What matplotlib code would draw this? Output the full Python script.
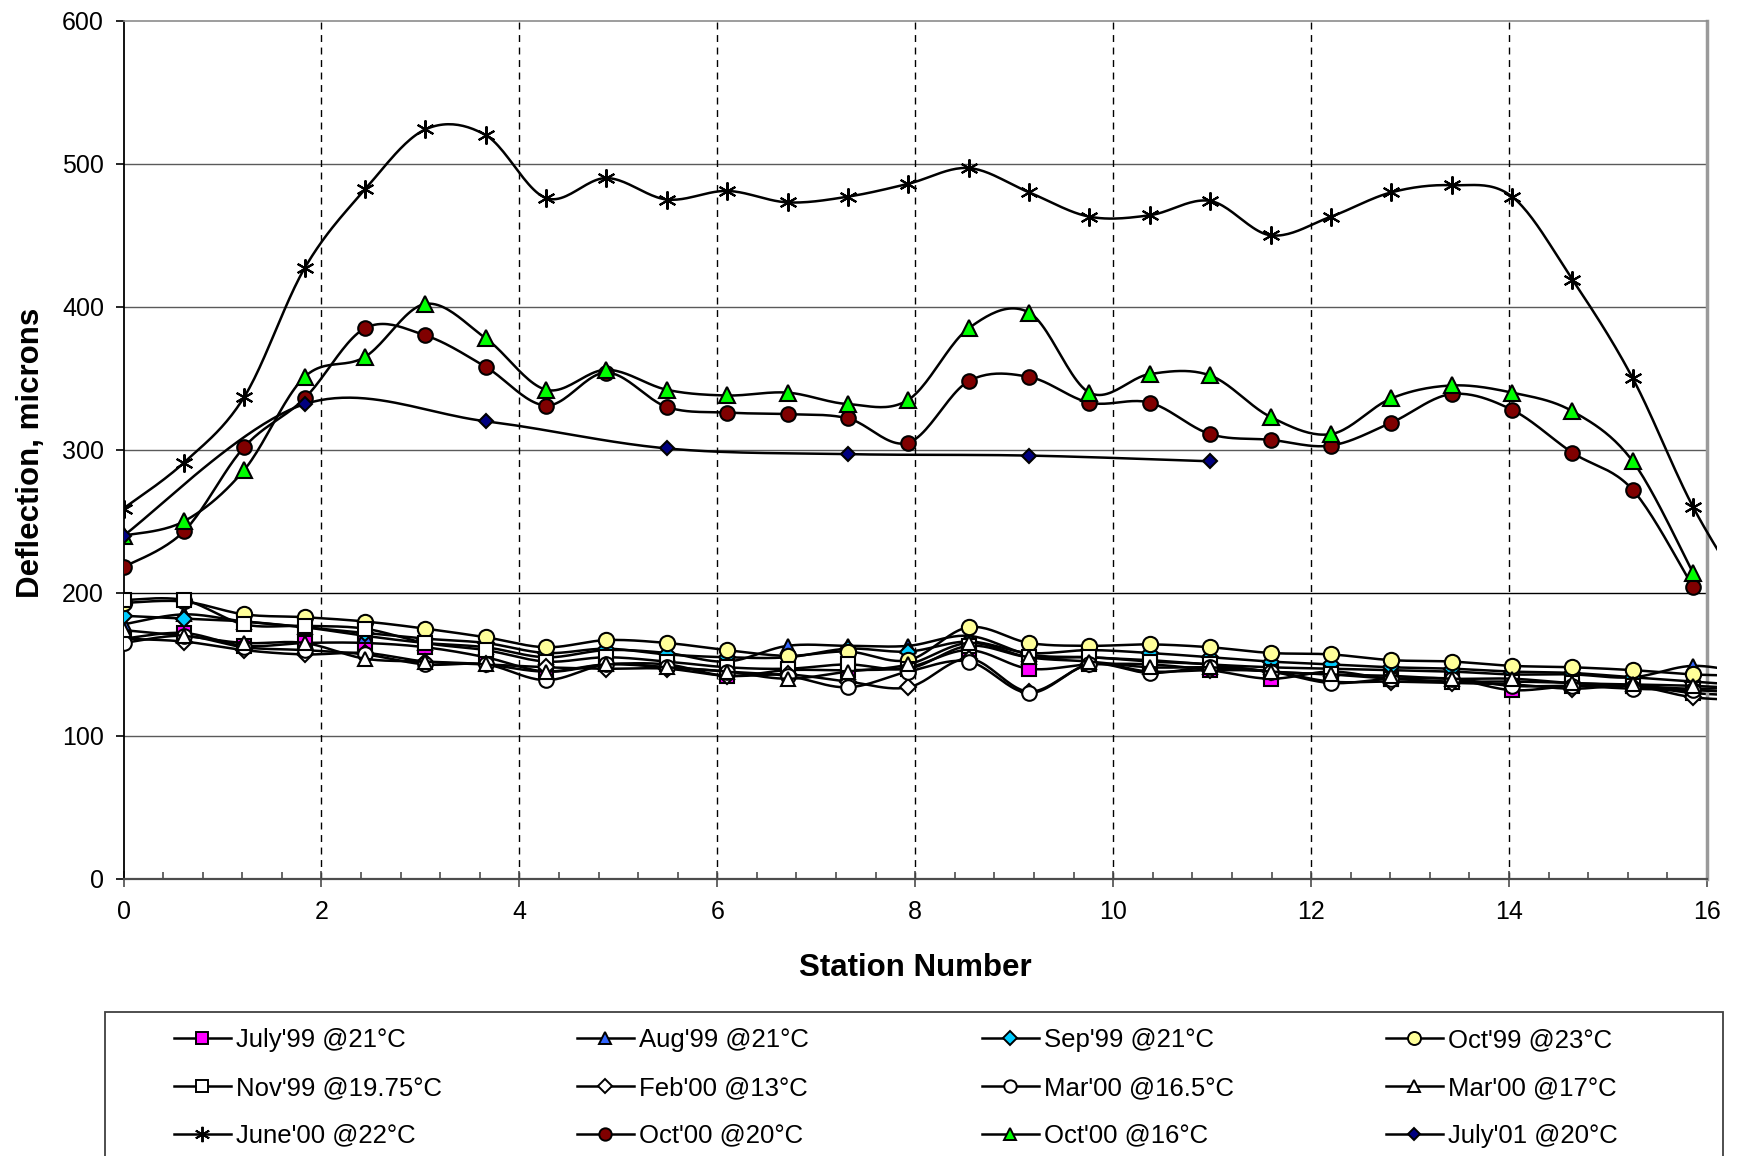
import numpy as np
import matplotlib
matplotlib.use("Agg")
import matplotlib.pyplot as plt
from matplotlib.patches import Rectangle
from matplotlib.lines import Line2D

plt.rcParams['font.family'] = ['Liberation Sans', 'DejaVu Sans']

# ---------------------------------------------------------------- data
# station positions (the last one lies just past the right edge of the plot)
station = [0.00, 0.61, 1.22, 1.83, 2.44, 3.05, 3.66, 4.27, 4.88, 5.49, 6.10,
           6.71, 7.32, 7.93, 8.54, 9.15, 9.76, 10.37, 10.98, 11.59, 12.20,
           12.81, 13.42, 14.03, 14.64, 15.25, 15.86, 16.47]

july99 = [168, 172, 163, 165, 165, 162, 155, 145, 150, 150, 142, 146, 146, 148,
          160, 147, 150, 150, 146, 140, 145, 140, 140, 132, 135, 135, 130, 128]
aug99 = [178, 185, 180, 176, 170, 165, 162, 155, 160, 158, 152, 163, 163, 163,
         170, 157, 155, 153, 150, 148, 147, 146, 145, 143, 143, 141, 149, 143]
sep99 = [184, 182, 180, 176, 172, 168, 165, 158, 161, 157, 155, 155, 161, 159,
         166, 158, 160, 158, 155, 152, 150, 148, 147, 145, 144, 141, 138, 135]
oct99 = [193, 194, 185, 183, 180, 175, 169, 162, 167, 165, 160, 156, 159, 153,
         176, 165, 163, 164, 162, 158, 157, 153, 152, 149, 148, 146, 143, 142]
nov99 = [195, 195, 178, 177, 175, 165, 160, 152, 155, 152, 148, 147, 150, 147,
         163, 155, 155, 152, 150, 145, 143, 140, 138, 138, 137, 135, 133, 134]
feb00 = [168, 166, 160, 157, 158, 152, 150, 148, 147, 147, 142, 143, 138, 134,
         154, 131, 150, 145, 146, 145, 138, 138, 137, 136, 133, 135, 127, 125]
mar00_165 = [165, 170, 162, 160, 157, 150, 150, 139, 150, 148, 145, 142, 134, 145,
             152, 130, 150, 144, 148, 145, 137, 140, 140, 135, 135, 133, 132, 130]
mar00_17 = [174, 170, 165, 165, 154, 152, 150, 145, 150, 148, 145, 140, 145, 150,
            165, 155, 152, 148, 148, 145, 143, 142, 140, 140, 137, 136, 135, 133]
june00 = [259, 291, 337, 427, 482, 524, 520, 476, 490, 475, 481, 473, 477, 486,
          497, 480, 463, 464, 474, 450, 463, 480, 485, 477, 419, 350, 260, 190]
oct00_20 = [218, 243, 302, 336, 385, 380, 358, 331, 354, 330, 326, 325, 322, 305,
            348, 351, 333, 333, 311, 307, 303, 319, 339, 328, 298, 272, 204]
oct00_16 = [240, 250, 286, 351, 365, 402, 378, 342, 356, 342, 338, 340, 332, 335,
            385, 396, 340, 353, 352, 323, 311, 336, 345, 340, 327, 292, 214]
july01_station = [0.00, 1.83, 3.66, 5.49, 7.32, 9.15, 10.98]
july01 = [240, 332, 320, 301, 297, 296, 292]

labels = ["July'99 @21°C", "Aug'99 @21°C", "Sep'99 @21°C", "Oct'99 @23°C",
          "Nov'99 @19.75°C", "Feb'00 @13°C", "Mar'00 @16.5°C", "Mar'00 @17°C",
          "June'00 @22°C", "Oct'00 @20°C", "Oct'00 @16°C", "July'01 @20°C"]

# ---------------------------------------------------------------- styles
ASTER = (6, 2, 0)
series = [
    (station, july99, 's', '#FF00FF', 9.5),
    (station, aug99, '^', '#3366FF', 10.5),
    (station, sep99, 'D', '#00CCFF', 8.0),
    (station, oct99, 'o', '#FFFF99', 11.0),
    (station, nov99, 's', 'white', 9.5),
    (station, feb00, 'D', 'white', 8.0),
    (station, mar00_165, 'o', 'white', 10.5),
    (station, mar00_17, '^', 'white', 10.5),
    (station, june00, ASTER, 'none', 13.0),
    (station, oct00_20, 'o', '#800000', 10.5),
    (station, oct00_16, '^', '#00FF00', 11.0),
    (july01_station, july01, 'D', '#000080', 7.5),
]


def smooth(x, y, n=24):
    """Smoothed curve through the points (cubic Bezier, Catmull-Rom tangents)."""
    x = np.asarray(x, float)
    y = np.asarray(y, float)
    px = np.concatenate([[x[0]], x, [x[-1]]])
    py = np.concatenate([[y[0]], y, [y[-1]]])
    t = np.linspace(0, 1, n, endpoint=False)
    xs, ys = [], []
    for i in range(1, len(px) - 2):
        for p, out in ((px, xs), (py, ys)):
            p0, p1, p2, p3 = p[i - 1], p[i], p[i + 1], p[i + 2]
            b1 = p1 + (p2 - p0) / 6.0
            b2 = p2 - (p3 - p1) / 6.0
            out.append((1 - t) ** 3 * p1 + 3 * (1 - t) ** 2 * t * b1
                       + 3 * (1 - t) * t ** 2 * b2 + t ** 3 * p2)
    xs.append([x[-1]])
    ys.append([y[-1]])
    return np.concatenate(xs), np.concatenate(ys)


# ---------------------------------------------------------------- figure
W, H = 1737, 1156
fig = plt.figure(figsize=(W / 100, H / 100), dpi=100)
fig.patch.set_facecolor('white')
ax = fig.add_axes([123.5 / W, 1 - 879 / H, (1707 - 123.5) / W, (879 - 20.7) / H])

ax.set_xlim(0, 16)
ax.set_ylim(0, 600)
ax.set_xticks(np.arange(0, 17, 2))
ax.set_xticks(np.arange(0, 16.01, 0.4), minor=True)
ax.set_yticks(np.arange(0, 601, 100))

# horizontal grid and dashed verticals
for v in range(100, 600, 100):
    ax.axhline(v, color='black' if v == 200 else '#5a5a5a', lw=1.0, zorder=0.5)
for v in range(2, 16, 2):
    ax.axvline(v, color='black', lw=1.0, ls=(0, (5, 4)), zorder=0.5)

clip = Rectangle((0, 0), 1.006, 1.0, transform=ax.transAxes, fill=False)
ax.add_artist(clip)
clip.set_visible(False)

z = 2
for xs, ys, mk, fc, ms in series:
    sx, sy = smooth(xs[:len(ys)], ys)
    ln, = ax.plot(sx, sy, color='black', lw=1.8, zorder=z, solid_capstyle='butt')
    ln.set_clip_path(clip)
    ax.plot(xs[:len(ys)], ys, ls='none', marker=mk, ms=ms,
            mfc=fc, mec='black', mew=1.5, zorder=z + 0.5)
    z += 1

# ---------------------------------------------------------------- axes style
ax.spines['left'].set_color('black')
ax.spines['left'].set_linewidth(1.3)
ax.spines['bottom'].set_color('#4d4d4d')
ax.spines['bottom'].set_linewidth(1.6)
ax.spines['top'].set_color('#8c8c8c')
ax.spines['top'].set_linewidth(1.2)
ax.spines['right'].set_color('#9a9a9a')
ax.spines['right'].set_linewidth(2.5)

ax.tick_params(axis='y', which='major', direction='out', length=6, width=1.2,
               pad=8, labelsize=18)
ax.tick_params(axis='x', which='major', direction='inout', length=12, width=1.2,
               pad=9, labelsize=18, color='#4d4d4d')
ax.tick_params(axis='x', which='minor', direction='in', length=5, width=1.2,
               color='#4d4d4d')

fig.text(31 / W, 1 - 453 / H, 'Deflection, microns', rotation=90, ha='center',
         va='center', fontsize=22.5, fontweight='bold')
fig.text(915 / W, 1 - 968 / H, 'Station Number', ha='center', va='center',
         fontsize=22.5, fontweight='bold')

# ---------------------------------------------------------------- legend
frame = Rectangle((105 / W, -0.02), (1723 - 105) / W, 0.02 + (1 - 1012 / H),
                  transform=fig.transFigure, fill=False, edgecolor='#404040',
                  lw=1.3)
fig.add_artist(frame)

handles = []
for xs, ys, mk, fc, ms in series:
    handles.append(Line2D([], [], color='black', lw=1.8, marker=mk,
                          ms=ms * 0.85, mfc=fc, mec='black', mew=1.4))

col_x = [174, 577, 982, 1386]
for c in range(4):
    idx = [c, c + 4, c + 8]
    fig.legend([handles[i] for i in idx], [labels[i] for i in idx],
               loc='upper left', bbox_to_anchor=(col_x[c] / W, 1 - 1028 / H),
               frameon=False, borderpad=0, borderaxespad=0, fontsize=18.5,
               handlelength=2.2, handletextpad=0.2, labelspacing=0.93)

fig.savefig('out.png', dpi=100, facecolor='white')
